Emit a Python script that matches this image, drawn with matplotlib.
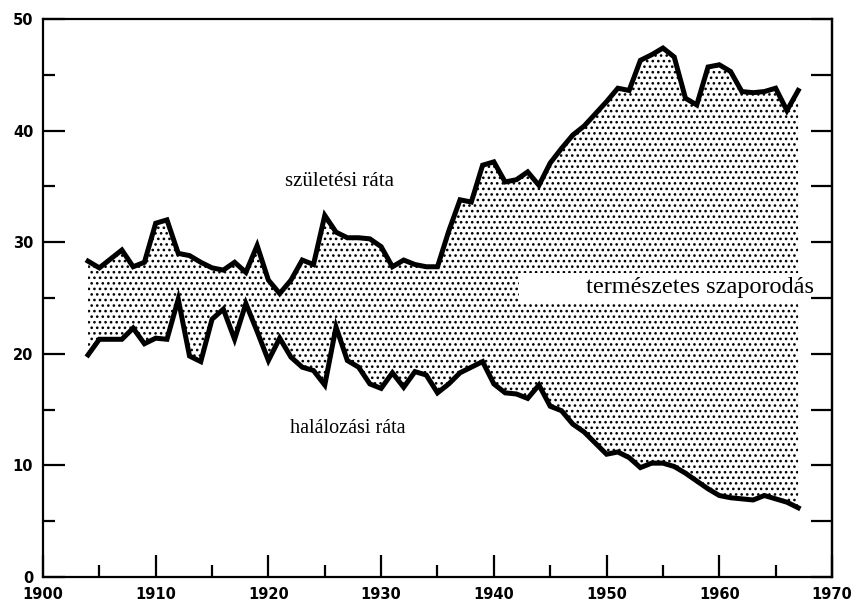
import matplotlib.pyplot as plt
from matplotlib.patches import Rectangle
from matplotlib.ticker import MultipleLocator
import numpy as np

plt.rcParams['hatch.linewidth'] = 1.1

years = np.arange(1904, 1968)

# születési ráta (ezrelék)
birth = [28.3, 27.7, 28.5, 29.3, 27.8, 28.2, 31.7, 32.0, 29.0, 28.8,
         28.2, 27.7, 27.5, 28.2, 27.3, 29.7, 26.6, 25.4, 26.6, 28.4,
         28.0, 32.4, 30.9, 30.4, 30.4, 30.3, 29.6, 27.8, 28.4, 28.0,
         27.8, 27.8, 31.0, 33.8, 33.6, 36.9, 37.2, 35.4, 35.6, 36.3,
         35.1, 37.1, 38.4, 39.6, 40.4, 41.5, 42.6, 43.8, 43.6, 46.3,
         46.8, 47.4, 46.6, 42.9, 42.3, 45.7, 45.9, 45.3, 43.5, 43.4,
         43.5, 43.8, 41.8, 43.6]

# halálozási ráta
death = [19.9, 21.3, 21.3, 21.3, 22.3, 20.9, 21.4, 21.3, 24.9, 19.8,
         19.3, 23.1, 24.0, 21.3, 24.5, 22.0, 19.4, 21.4, 19.7, 18.8,
         18.5, 17.2, 22.4, 19.4, 18.8, 17.3, 16.9, 18.3, 17.0, 18.4,
         18.1, 16.5, 17.3, 18.3, 18.8, 19.3, 17.3, 16.5, 16.4, 16.0,
         17.2, 15.3, 14.9, 13.7, 13.0, 12.0, 11.0, 11.2, 10.7, 9.8,
         10.2, 10.2, 9.9, 9.3, 8.6, 7.9, 7.3, 7.1, 7.0, 6.9,
         7.3, 7.0, 6.7, 6.2]

fig = plt.figure(figsize=(8.51, 6.06), dpi=100)
ax = fig.add_axes([0.0505, 0.0479, 0.9272, 0.9207])

ax.fill_between(years, death, birth, facecolor='white', edgecolor='black',
                hatch='...', linewidth=0, zorder=1)
# fehér sáv a felirat alatt
ax.add_patch(Rectangle((1942.2, 24.6), 1967 - 1942.2, 2.6,
                       facecolor='white', edgecolor='none', zorder=2))

ax.plot(years, birth, color='black', lw=3.6, solid_joinstyle='miter', zorder=3)
ax.plot(years, death, color='black', lw=3.6, solid_joinstyle='miter', zorder=3)

serif = 'Liberation Serif'
ax.text(1926.3, 35.4, 'születési ráta', family=serif, fontsize=15,
        ha='center', va='center', zorder=4)
ax.text(1927.0, 13.3, 'halálozási ráta', family=serif, fontsize=14.5,
        ha='center', va='center', zorder=4)
ax.text(1958.3, 25.95, 'természetes szaporodás', family=serif, fontsize=17.5,
        ha='center', va='center', zorder=4)

ax.set_xlim(1900, 1970)
ax.set_ylim(0, 50)
ax.xaxis.set_major_locator(MultipleLocator(10))
ax.xaxis.set_minor_locator(MultipleLocator(5))
ax.yaxis.set_major_locator(MultipleLocator(10))
ax.yaxis.set_minor_locator(MultipleLocator(5))

ax.tick_params(which='major', direction='in', length=16, width=1.6,
               labelsize=10.5, pad=7, top=False, right=False)
ax.tick_params(which='minor', direction='in', length=8.5, width=1.6,
               top=False, right=False)
for lab in ax.get_xticklabels() + ax.get_yticklabels():
    lab.set_fontweight('bold')

sec = ax.secondary_yaxis('right')
sec.yaxis.set_major_locator(MultipleLocator(5))
sec.tick_params(direction='in', length=15, width=1.6, labelright=False)
sec.spines['right'].set_linewidth(1.6)

for s in ax.spines.values():
    s.set_linewidth(1.6)

fig.savefig('out.png', dpi=100)
